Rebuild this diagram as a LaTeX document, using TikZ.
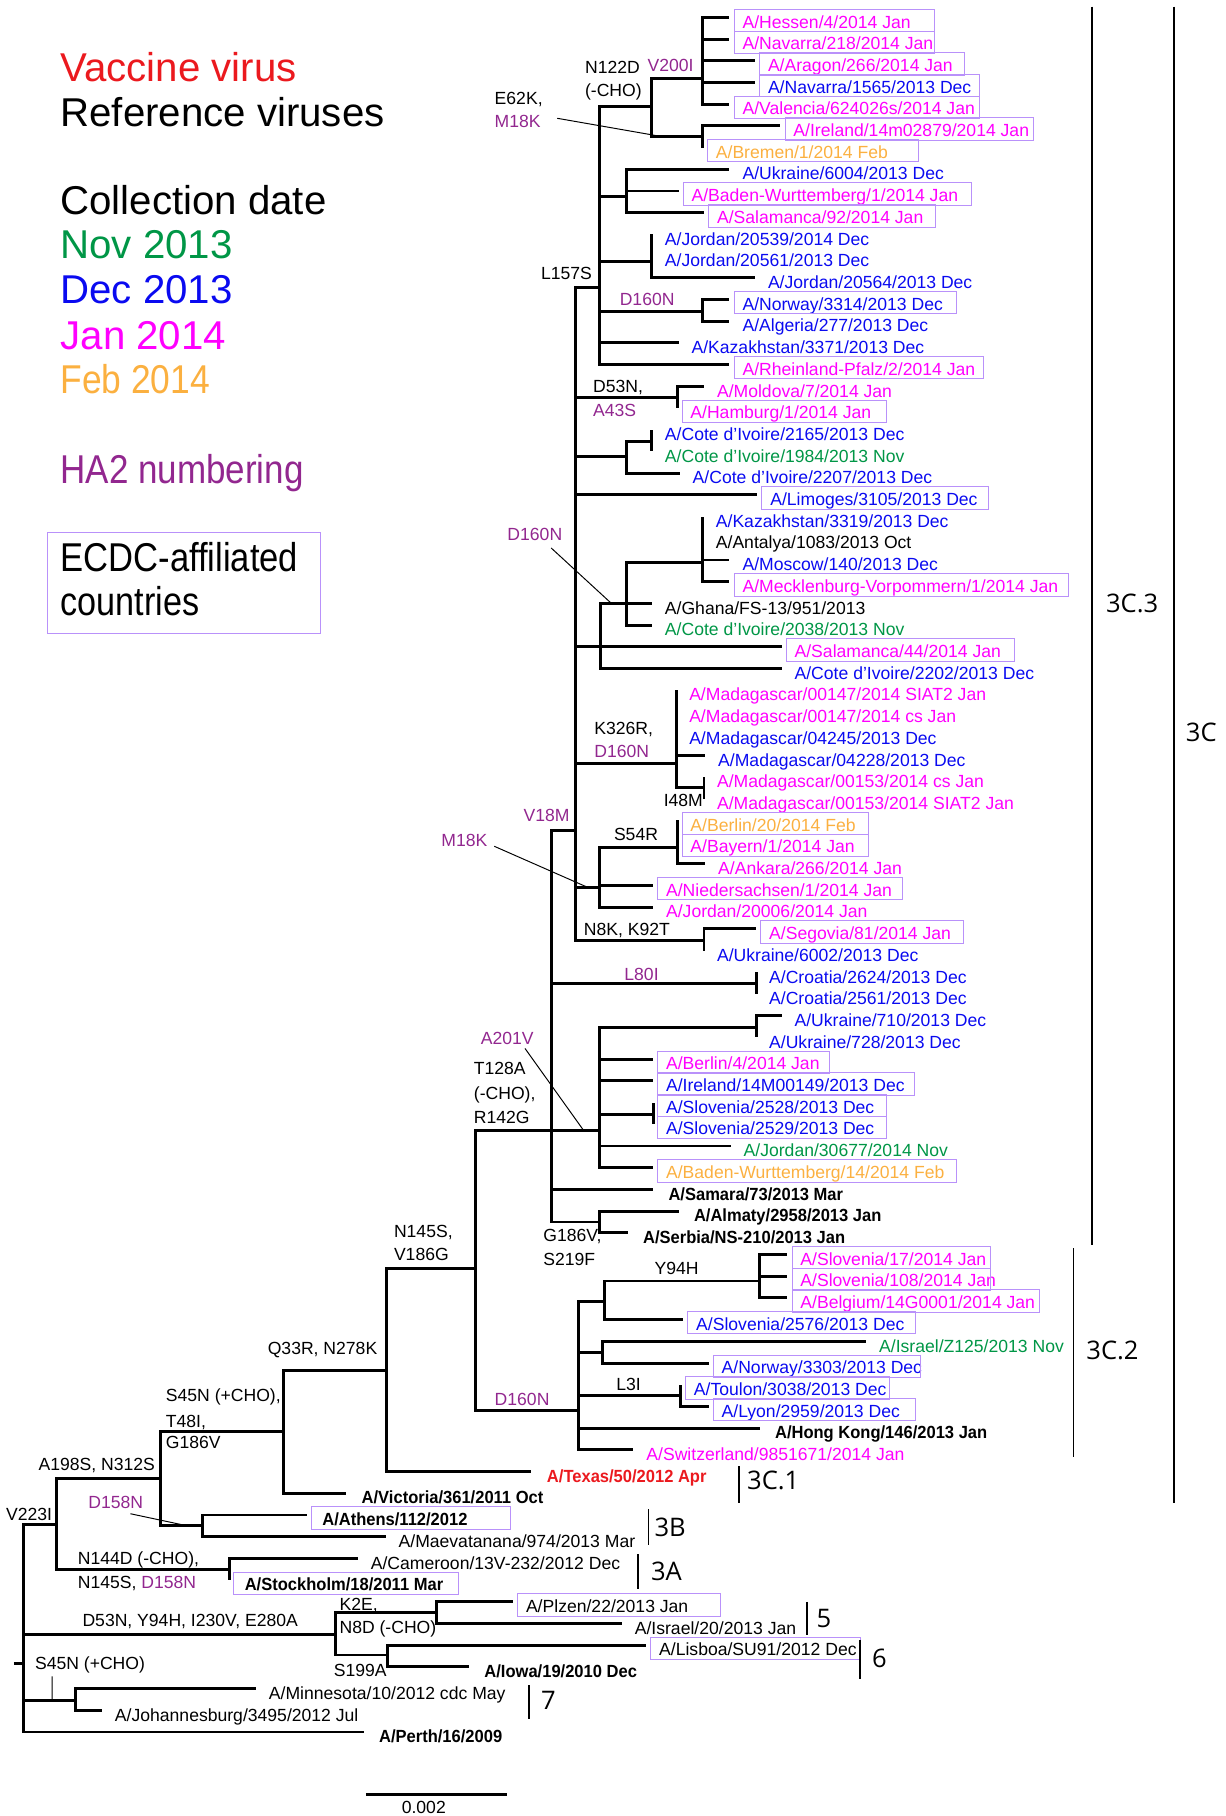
\documentclass[tikz,border=0pt]{standalone}
\usepackage{fontspec}
\usepackage{graphicx}
\usepackage{tikz}
\setmainfont{Liberation Sans}
\newfontfamily\cladefont{Open Sans}

\definecolor{mjan}{RGB}{255,0,255}
\definecolor{mdec}{RGB}{10,10,240}
\definecolor{mnov}{RGB}{0,150,70}
\definecolor{mfeb}{RGB}{251,176,64}
\definecolor{vacc}{RGB}{235,25,30}
\definecolor{hatwo}{RGB}{146,39,143}
\definecolor{ecdc}{RGB}{185,145,250}

\tikzset{
  br/.style={line width=1.8pt},
  lead/.style={line width=0.6pt},
  clade/.style={line width=1pt},
  lab/.style={anchor=west, inner sep=0pt, text height=7.8pt, text depth=0pt,
    font=\fontsize{10.8}{13}\selectfont},
  ha/.style={text=hatwo},
  refv/.style={xshift=1.5pt},
  ecbox/.style={draw=ecdc, line width=0.6pt},
  big/.style={anchor=west, inner sep=0pt, text height=17.7pt, text depth=0pt,
    font=\fontsize{24.7}{30}\selectfont},
  cl/.style={anchor=west, inner sep=0pt, text height=11.2pt, text depth=0pt,
    font=\cladefont\fontsize{15.7}{19}\selectfont}
}

\newcommand{\rv}[1]{\scalebox{0.94}[1]{\bfseries #1}}
\newcommand{\leaf}[5]{\coordinate (#1) at (#3,#2);
  \node[lab,#4] (#1 lab) at (#3+11,#2+0.2) {#5};}
\newcommand{\boxleaf}[6]{\leaf{#1}{#2}{#3}{#4}{#5}
  \draw[ecbox] (#3+4,#2-0.37) rectangle (#6,#2+0.66);}

\begin{document}
\begin{tikzpicture}[x=0.025cm,y=-0.4685cm]
  \useasboundingbox (0,0.2) rectangle (1058,83.87);

  \node[big,vacc] (lgVacc) at (52,3.29) {Vaccine virus};
  \node[big] (lgRef) at (52,5.38) {Reference viruses};
  \node[big] (lgDate) at (52,9.43) {Collection date};
  \node[big,mnov] (lgNov) at (52,11.46) {Nov 2013};
  \node[big,mdec] (lgDec) at (52,13.54) {Dec 2013};
  \node[big,mjan] (lgJan) at (52,15.62) {Jan 2014};
  \node[big,mfeb] (lgFeb) at (52,17.65) {\scalebox{0.88}[1]{Feb 2014}};
  \node[big,hatwo] (lgHA) at (52,21.81) {\scalebox{0.87}[1]{HA2 numbering}};
  \draw[ecbox] (41,24.75) rectangle (277,29.39);
  \node[big] (lgEcdc) at (52,25.87) {\scalebox{0.86}[1]{ECDC-affiliated}};
  \node[big] (lgCountries) at (52,27.89) {\scalebox{0.85}[1]{countries}};

  \boxleaf{hessen}{1}{630}{mjan}{A/Hessen/4/2014 Jan}{807}
  \boxleaf{navarraA}{2}{630}{mjan}{A/Navarra/218/2014 Jan}{807}
  \boxleaf{aragon}{3}{652}{mjan}{A/Aragon/266/2014 Jan}{833}
  \boxleaf{navarraB}{4}{652}{mdec}{A/Navarra/1565/2013 Dec}{846}
  \boxleaf{valencia}{5}{630}{mjan}{A/Valencia/624026s/2014 Jan}{846}
  \boxleaf{irelandA}{6}{674}{mjan}{A/Ireland/14m02879/2014 Jan}{893}
  \boxleaf{bremen}{7}{607}{mfeb}{A/Bremen/1/2014 Feb}{793}
  \leaf{ukraineA}{8}{630}{mdec}{A/Ukraine/6004/2013 Dec}
  \boxleaf{badenA}{9}{586}{mjan}{A/Baden-Wurttemberg/1/2014 Jan}{839}
  \boxleaf{salamancaA}{10}{608}{mjan}{A/Salamanca/92/2014 Jan}{808}
  \leaf{jordanA}{11}{563}{mdec}{A/Jordan/20539/2014 Dec}
  \leaf{jordanB}{12}{563}{mdec}{A/Jordan/20561/2013 Dec}
  \leaf{jordanC}{13}{652}{mdec}{A/Jordan/20564/2013 Dec}
  \boxleaf{norwayA}{14}{630}{mdec}{A/Norway/3314/2013 Dec}{826}
  \leaf{algeria}{15}{630}{mdec}{A/Algeria/277/2013 Dec}
  \leaf{kazakhA}{16}{586}{mdec}{A/Kazakhstan/3371/2013 Dec}
  \boxleaf{rheinland}{17}{630}{mjan}{A/Rheinland-Pfalz/2/2014 Jan}{849}
  \leaf{moldova}{18}{608}{mjan}{A/Moldova/7/2014 Jan}
  \boxleaf{hamburg}{19}{585}{mjan}{A/Hamburg/1/2014 Jan}{766}
  \leaf{coteA}{20}{563}{mdec}{A/Cote d’Ivoire/2165/2013 Dec}
  \leaf{coteB}{21}{563}{mnov}{A/Cote d’Ivoire/1984/2013 Nov}
  \leaf{coteC}{22}{587}{mdec}{A/Cote d’Ivoire/2207/2013 Dec}
  \boxleaf{limoges}{23}{654}{mdec}{A/Limoges/3105/2013 Dec}{854}
  \leaf{kazakhB}{24}{607}{mdec}{A/Kazakhstan/3319/2013 Dec}
  \leaf{antalya}{25}{607}{black}{A/Antalya/1083/2013 Oct}
  \leaf{moscow}{26}{630}{mdec}{A/Moscow/140/2013 Dec}
  \boxleaf{mecklenburg}{27}{630}{mjan}{A/Mecklenburg-Vorpommern/1/2014 Jan}{923}
  \leaf{ghana}{28}{563}{black}{A/Ghana/FS-13/951/2013}
  \leaf{coteD}{29}{563}{mnov}{A/Cote d’Ivoire/2038/2013 Nov}
  \boxleaf{salamancaB}{30}{675}{mjan}{A/Salamanca/44/2014 Jan}{876}
  \leaf{coteE}{31}{675}{mdec}{A/Cote d’Ivoire/2202/2013 Dec}
  \leaf{madA}{32}{584}{mjan}{A/Madagascar/00147/2014 SIAT2 Jan}
  \leaf{madB}{33}{584}{mjan}{A/Madagascar/00147/2014 cs Jan}
  \leaf{madC}{34}{584}{mdec}{A/Madagascar/04245/2013 Dec}
  \leaf{madD}{35}{609}{mdec}{A/Madagascar/04228/2013 Dec}
  \leaf{madE}{36}{608}{mjan}{A/Madagascar/00153/2014 cs Jan}
  \leaf{madF}{37}{608}{mjan}{A/Madagascar/00153/2014 SIAT2 Jan}
  \boxleaf{berlinA}{38}{585}{mfeb}{A/Berlin/20/2014 Feb}{750}
  \boxleaf{bayern}{39}{585}{mjan}{A/Bayern/1/2014 Jan}{750}
  \leaf{ankara}{40}{609}{mjan}{A/Ankara/266/2014 Jan}
  \boxleaf{nieders}{41}{564}{mjan}{A/Niedersachsen/1/2014 Jan}{779}
  \leaf{jordanD}{42}{564}{mjan}{A/Jordan/20006/2014 Jan}
  \boxleaf{segovia}{43}{653}{mjan}{A/Segovia/81/2014 Jan}{832}
  \leaf{ukraineB}{44}{608}{mdec}{A/Ukraine/6002/2013 Dec}
  \leaf{croatiaA}{45}{653}{mdec}{A/Croatia/2624/2013 Dec}
  \leaf{croatiaB}{46}{653}{mdec}{A/Croatia/2561/2013 Dec}
  \leaf{ukraineC}{47}{675}{mdec}{A/Ukraine/710/2013 Dec}
  \leaf{ukraineD}{48}{653}{mdec}{A/Ukraine/728/2013 Dec}
  \boxleaf{berlinB}{49}{564}{mjan}{A/Berlin/4/2014 Jan}{716}
  \boxleaf{irelandB}{50}{564}{mdec}{A/Ireland/14M00149/2013 Dec}{790}
  \boxleaf{sloveniaA}{51}{564}{mdec}{A/Slovenia/2528/2013 Dec}{766}
  \boxleaf{sloveniaB}{52}{564}{mdec}{A/Slovenia/2529/2013 Dec}{766}
  \leaf{jordanE}{53}{631}{mnov}{A/Jordan/30677/2014 Nov}
  \boxleaf{badenB}{54}{564}{mfeb}{A/Baden-Wurttemberg/14/2014 Feb}{826}
  \leaf{samara}{55}{564}{refv}{\rv{A/Samara/73/2013 Mar}}
  \leaf{almaty}{56}{586}{refv}{\rv{A/Almaty/2958/2013 Jan}}
  \leaf{serbia}{57}{542}{refv}{\rv{A/Serbia/NS-210/2013 Jan}}
  \boxleaf{sloveniaC}{58}{680}{mjan}{A/Slovenia/17/2014 Jan}{855}
  \boxleaf{sloveniaD}{59}{680}{mjan}{A/Slovenia/108/2014 Jan}{855}
  \boxleaf{belgium}{60}{680}{mjan}{A/Belgium/14G0001/2014 Jan}{898}
  \boxleaf{sloveniaE}{61}{590}{mdec}{A/Slovenia/2576/2013 Dec}{791}
  \leaf{israelA}{62}{748}{mnov}{A/Israel/Z125/2013 Nov}
  \boxleaf{norwayB}{63}{612}{mdec}{A/Norway/3303/2013 Dec}{795}
  \boxleaf{toulon}{64}{588}{mdec}{A/Toulon/3038/2013 Dec}{768}
  \boxleaf{lyon}{65}{612}{mdec}{A/Lyon/2959/2013 Dec}{791}
  \leaf{hongkong}{66}{656}{refv}{\rv{A/Hong Kong/146/2013 Jan}}
  \leaf{switzerland}{67}{547}{mjan}{A/Switzerland/9851671/2014 Jan}
  \leaf{texas}{68}{459}{refv,vacc}{\rv{A/Texas/50/2012 Apr}}
  \leaf{victoria}{69}{299}{refv}{\rv{A/Victoria/361/2011 Oct}}
  \boxleaf{athens}{70}{265}{refv}{\rv{A/Athens/112/2012}}{441}
  \leaf{maevatanana}{71}{333}{black}{A/Maevatanana/974/2013 Mar}
  \leaf{cameroon}{72}{309}{black}{A/Cameroon/13V-232/2012 Dec}
  \boxleaf{stockholm}{73}{198}{refv}{\rv{A/Stockholm/18/2011 Mar}}{396}
  \boxleaf{plzen}{74}{443}{black}{A/Plzen/22/2013 Jan}{622}
  \leaf{israelB}{75}{537}{black}{A/Israel/20/2013 Jan}
  \boxleaf{lisboa}{76}{558}{black}{A/Lisboa/SU91/2012 Dec}{743}
  \leaf{iowa}{77}{405}{refv}{\rv{A/Iowa/19/2010 Dec}}
  \leaf{minnesota}{78}{221}{black}{A/Minnesota/10/2012 cdc May}
  \leaf{johannesburg}{79}{88}{black}{A/Johannesburg/3495/2012 Jul}
  \leaf{perth}{80}{314}{refv}{\rv{A/Perth/16/2009}}

  \coordinate (root) at (20,76.83);
  \coordinate (rootstub) at (12,76.83);
  \coordinate (nV223) at (49,70.42);
  \coordinate (nA198) at (139,68.34);
  \coordinate (nS45) at (245,66.15);
  \coordinate (nQ33) at (334,63.33);
  \coordinate (nN145) at (411,58.63);
  \coordinate (nT128) at (476,52.3);
  \coordinate (nV18) at (497,38.46);
  \coordinate (nL157) at (518,13.43);
  \coordinate (nE62) at (563,5.11);
  \coordinate (nN122) at (607,3.83);
  \coordinate (nIre) at (607,6.5);
  \coordinate (nUkr) at (541,9.27);
  \coordinate (nJor) at (563,12.26);
  \coordinate (nD160a) at (607,14.55);
  \coordinate (nD53) at (585,18.5);
  \coordinate (nCote) at (541,21.22);
  \coordinate (nCoteb) at (563,20.53);
  \coordinate (nD160b) at (519,30);
  \coordinate (nGha) at (541,28);
  \coordinate (nMos) at (607,26.13);
  \coordinate (nK326) at (584,35.36);
  \coordinate (nI48) at (608,36.49);
  \coordinate (nM18) at (518,41.07);
  \coordinate (nS54) at (585,39.26);
  \coordinate (nN8) at (608,43.53);
  \coordinate (nL80) at (653,45.5);
  \coordinate (nA201) at (518,52.3);
  \coordinate (nUkrb) at (653,47.53);
  \coordinate (nSlo) at (564,51.53);
  \coordinate (nG186) at (518,56.5);
  \coordinate (nD160c) at (500,65.19);
  \coordinate (nY94) at (522,60.18);
  \coordinate (nY94b) at (656,59.22);
  \coordinate (nIsr) at (520,62.53);
  \coordinate (nL3) at (588,64.5);
  \coordinate (nD158) at (175,70.48);
  \coordinate (nN144) at (198,72.5);
  \coordinate (nD53b) at (290,75.49);
  \coordinate (nK2) at (377,74.48);
  \coordinate (nS199) at (335,76.45);
  \coordinate (nS45b) at (65,78.53);

  \draw[br] (rootstub) -- (root);
  \draw[br] (root) |- (nV223) (root) |- (nD53b) (root) |- (nS45b) (root) |- (perth);
  \draw[br] (nV223) |- (nA198) (nV223) |- (nN144);
  \draw[br] (nA198) |- (nS45) (nA198) |- (nD158);
  \draw[br] (nS45) |- (nQ33) (nS45) |- (victoria);
  \draw[br] (nQ33) |- (nN145) (nQ33) |- (texas);
  \draw[br] (nN145) |- (nT128) (nN145) |- (nD160c);
  \draw[br] (nT128) |- (nV18) (nT128) |- (nL80) (nT128) -- (nA201) (nT128) |- (samara) (nT128) |- (nG186);
  \draw[br] (nV18) |- (nL157) (nV18) |- (nD53) (nV18) |- (nCote) (nV18) |- (limoges)
    (nV18) |- (nD160b) (nV18) |- (nK326) (nV18) |- (nM18) (nV18) |- (nN8);
  \draw[br] (nL157) |- (nE62) (nL157) |- (nUkr) (nL157) |- (nJor) (nL157) |- (nD160a)
    (nL157) |- (kazakhA) (nL157) |- (rheinland);
  \draw[br] (nE62) |- (nN122) (nE62) |- (nIre);
  \draw[br] (nN122) |- (hessen) (nN122) |- (navarraA) (nN122) |- (aragon) (nN122) |- (navarraB) (nN122) |- (valencia);
  \draw[br] (nIre) |- (irelandA) (nIre) |- (bremen);
  \draw[br] (nUkr) |- (ukraineA) (nUkr) |- (badenA) (nUkr) |- (salamancaA);
  \draw[br] (nJor) |- (jordanA) (nJor) |- (jordanB) (nJor) |- (jordanC);
  \draw[br] (nD160a) |- (norwayA) (nD160a) |- (algeria);
  \draw[br] (nD53) |- (moldova) (nD53) |- (hamburg);
  \draw[br] (nCote) |- (nCoteb) (nCote) |- (coteC);
  \draw[br] (nCoteb) |- (coteA) (nCoteb) |- (coteB);
  \draw[br] (nD160b) |- (nGha) (nD160b) -- (salamancaB) (nD160b) |- (coteE);
  \draw[br] (nGha) |- (nMos) (nGha) |- (ghana) (nGha) |- (coteD);
  \draw[br] (nMos) |- (kazakhB) (nMos) |- (antalya) (nMos) |- (moscow) (nMos) |- (mecklenburg);
  \draw[br] (nK326) |- (madA) (nK326) |- (madB) (nK326) |- (madC) (nK326) |- (madD) (nK326) |- (nI48);
  \draw[br] (nI48) |- (madE) (nI48) |- (madF);
  \draw[br] (nM18) |- (nS54) (nM18) |- (nieders) (nM18) |- (jordanD);
  \draw[br] (nS54) |- (berlinA) (nS54) |- (bayern) (nS54) |- (ankara);
  \draw[br] (nN8) |- (segovia) (nN8) |- (ukraineB);
  \draw[br] (nL80) |- (croatiaA) (nL80) |- (croatiaB);
  \draw[br] (nA201) |- (nUkrb) (nA201) |- (berlinB) (nA201) |- (irelandB) (nA201) |- (nSlo)
    (nA201) |- (jordanE) (nA201) |- (badenB);
  \draw[br] (nUkrb) |- (ukraineC) (nUkrb) |- (ukraineD);
  \draw[br] (nSlo) |- (sloveniaA) (nSlo) |- (sloveniaB);
  \draw[br] (nG186) |- (almaty) (nG186) |- (serbia);
  \draw[br] (nD160c) |- (nY94) (nD160c) |- (nIsr) (nD160c) |- (nL3) (nD160c) |- (hongkong) (nD160c) |- (switzerland);
  \draw[br] (nY94) |- (nY94b) (nY94) |- (sloveniaE);
  \draw[br] (nY94b) |- (sloveniaC) (nY94b) |- (sloveniaD) (nY94b) |- (belgium);
  \draw[br] (nIsr) |- (israelA) (nIsr) |- (norwayB);
  \draw[br] (nL3) |- (toulon) (nL3) |- (lyon);
  \draw[br] (nD158) |- (athens) (nD158) |- (maevatanana);
  \draw[br] (nN144) |- (cameroon) (nN144) |- (stockholm);
  \draw[br] (nD53b) |- (nK2) (nD53b) |- (nS199);
  \draw[br] (nK2) |- (plzen) (nK2) |- (israelB);
  \draw[br] (nS199) |- (lisboa) (nS199) |- (iowa);
  \draw[br] (nS45b) |- (minnesota) (nS45b) |- (johannesburg);

  \node[lab] (mE62K) at (427,4.735) {E62K,};
  \node[lab,ha] (mM18Ka) at (427,5.80) {M18K};
  \node[lab] (mN122D) at (505,3.29) {N122D};
  \node[lab] (mCHOa) at (505,4.36) {(-CHO)};
  \node[lab,ha] (mV200I) at (559,3.19) {V200I};
  \node[lab] (mL157S) at (467,12.79) {L157S};
  \node[lab,ha] (mD160Na) at (535,13.97) {D160N};
  \node[lab] (mD53N) at (512,17.97) {D53N,};
  \node[lab,ha] (mA43S) at (512,19.09) {A43S};
  \node[lab,ha] (mD160Nb) at (438,24.80) {D160N};
  \node[lab] (mK326R) at (513,33.76) {K326R,};
  \node[lab,ha] (mD160Nc) at (513,34.83) {D160N};
  \node[lab] (mI48M) at (573,37.07) {I48M};
  \node[lab,ha] (mV18M) at (452,37.77) {V18M};
  \node[lab,ha] (mM18Kb) at (381,38.89) {M18K};
  \node[lab] (mS54R) at (530,38.62) {S54R};
  \node[lab] (mN8K) at (504,42.99) {N8K, K92T};
  \node[lab,ha] (mL80I) at (539,45.08) {L80I};
  \node[lab,ha] (mA201V) at (415,48.01) {A201V};
  \node[lab] (mT128A) at (409,49.40) {T128A};
  \node[lab] (mCHOb) at (409,50.57) {(-CHO),};
  \node[lab] (mR142G) at (409,51.69) {R142G};
  \node[lab] (mG186Va) at (469,57.13) {G186V,};
  \node[lab] (mS219F) at (469,58.20) {S219F};
  \node[lab] (mN145Sa) at (340,56.92) {N145S,};
  \node[lab] (mV186G) at (340,57.99) {V186G};
  \node[lab] (mY94H) at (565,58.63) {Y94H};
  \node[lab] (mQ33R) at (231,62.31) {Q33R, N278K};
  \node[lab] (mL3I) at (532,63.97) {L3I};
  \node[lab] (mS45Na) at (143,64.50) {S45N (+CHO),};
  \node[lab] (mT48I) at (143,65.67) {T48I,};
  \node[lab] (mG186Vb) at (143,66.63) {G186V};
  \node[lab,ha] (mD160Nd) at (427,64.66) {D160N};
  \node[lab] (mA198S) at (33,67.65) {A198S, N312S};
  \node[lab,ha] (mD158Na) at (76,69.41) {D158N};
  \node[lab] (mV223I) at (5,69.94) {V223I};
  \node[lab] (mN144D) at (67,71.97) {N144D (-CHO),};
  \node[lab] (mN145Sb) at (67,73.09) {N145S, \textcolor{hatwo}{D158N}};
  \node[lab] (mK2E) at (293,74.10) {K2E,};
  \node[lab] (mN8D) at (293,75.17) {N8D (-CHO)};
  \node[lab] (mD53Nb) at (71,74.85) {D53N, Y94H, I230V, E280A};
  \node[lab] (mS199A) at (288,77.15) {S199A};
  \node[lab] (mS45Nb) at (30,76.83) {S45N (+CHO)};

  \coordinate (pE62K) at (566,6.44);
  \coordinate (pD160Nb) at (527,27.95);
  \coordinate (pM18Kb) at (507,41.07);
  \coordinate (pA201V) at (504,52.28);
  \coordinate (pD158N) at (160,70.48);
  \coordinate (pS45Nb) at (45,78.53);
  \draw[lead] ([xshift=10pt,yshift=2pt]mM18Ka.east) -- (pE62K);
  \draw[lead] ([xshift=-7pt,yshift=-4.5pt]mD160Nb.south east) -- (pD160Nb);
  \draw[lead] ([xshift=4pt,yshift=-4pt]mM18Kb.east) -- (pM18Kb);
  \draw[lead] ([xshift=-5.5pt,yshift=-2.5pt]mA201V.south east) -- (pA201V);
  \draw[lead] ([xshift=-8pt,yshift=-3pt]mD158Na.south east) -- (pD158N);
  \draw[lead] ([xshift=10.7pt,yshift=-4pt]mS45Nb.south west) -- (pS45Nb);

  \draw[clade] (943,0.51) -- (943,57.56);
  \draw[clade] (1014,0.51) -- (1014,69.46);
  \draw[clade] (927,57.72) -- (927,67.33);
  \draw[clade] (638,67.75) -- (638,69.46);
  \draw[clade] (560,69.73) -- (560,71.38);
  \draw[clade] (551,71.81) -- (551,73.41);
  \draw[clade] (697,74.00) -- (697,75.55);
  \draw[clade] (743,75.76) -- (743,77.57);
  \draw[clade] (457,77.84) -- (457,79.39);
  \node[cl] (c3C3) at (955,28.0) {3C.3};
  \node[cl] (c3C) at (1024,33.92) {3C};
  \node[cl] (c3C2) at (938,62.42) {3C.2};
  \node[cl] (c3C1) at (645,68.39) {3C.1};
  \node[cl] (c3B) at (565,70.58) {3B};
  \node[cl] (c3A) at (562,72.61) {3A};
  \node[cl] (c5) at (705,74.75) {5};
  \node[cl] (c6) at (753,76.61) {6};
  \node[cl] (c7) at (467,78.53) {7};

  \coordinate (scaleL) at (316,82.86);
  \coordinate (scaleR) at (438,82.86);
  \draw[br] (scaleL) -- (scaleR);
  \node[lab,anchor=center] (scaleLab) at (366,83.45) {0.002};
\end{tikzpicture}
\end{document}
